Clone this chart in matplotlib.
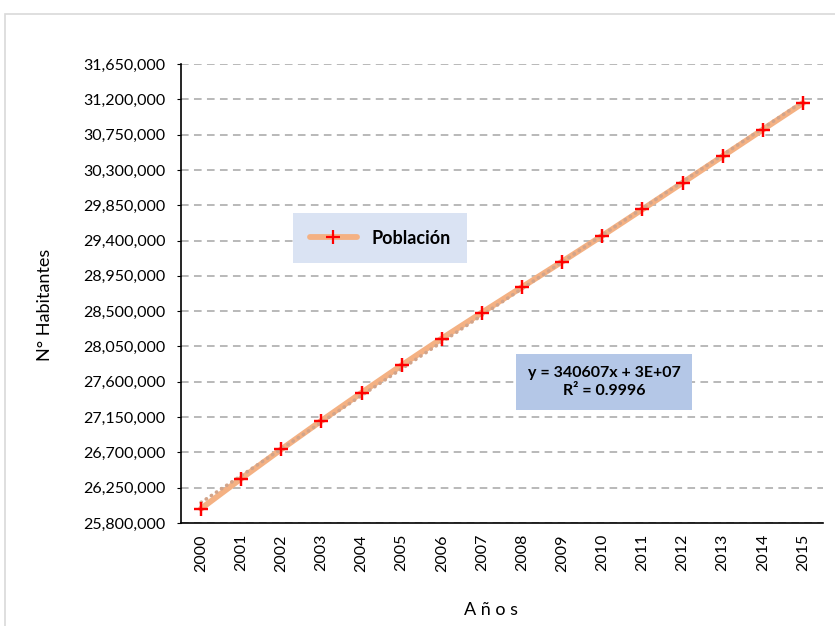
import numpy as np
import matplotlib
matplotlib.use("Agg")
import matplotlib.pyplot as plt
from matplotlib.patches import Rectangle
from matplotlib.ticker import FuncFormatter

plt.rcParams['font.family'] = ['Lato', 'DejaVu Sans']

years = ['2000', '2001', '2002', '2003', '2004', '2005', '2006', '2007',
         '2008', '2009', '2010', '2011', '2012', '2013', '2014', '2015']
poblacion = [25983588, 26366533, 26739379, 27103457, 27460073, 27810540,
             28151443, 28481901, 28807034, 29132013, 29461933, 29797694,
             30135875, 30475144, 30814175, 31151643]
y_ticks = [25800000 + 450000 * i for i in range(14)]
equation = "y = 340607x + 3E+07\nR² = 0.9996"

W, H = 835, 626
fig = plt.figure(figsize=(W / 100, H / 100), dpi=100)

# chart border (Excel-like frame, cut at right/bottom)
fig.patches.append(Rectangle((5 / W, -0.1), 1.2, 1 - 14 / H + 0.1,
                             transform=fig.transFigure, fill=False,
                             edgecolor='#D9D9D9', linewidth=1.2))

ax = fig.add_axes([181 / W, 1 - 523 / H, (823 - 181) / W, (523 - 64) / H])
x = np.arange(len(years))

# linear trendline (Excel style, x = 1..n)
xs = x + 1
coef = np.polyfit(xs, poblacion, 1)
trend = np.polyval(coef, xs)

ax.plot(x, poblacion, color='#F4B183', linewidth=4.2, solid_capstyle='round',
        marker='+', markersize=10, markeredgewidth=1.6, markeredgecolor='#FF0000',
        label='Población', zorder=3)
ax.plot(x, trend, color='#D2A48A', linewidth=2.6, linestyle=(0, (0.1, 1.6)),
        dash_capstyle='round', zorder=4)
# redraw markers above the trendline
ax.plot(x, poblacion, linestyle='none', marker='+', markersize=10,
        markeredgewidth=1.6, markeredgecolor='#FF0000', zorder=5)

ax.set_xlim(-0.5, len(years) - 0.5)
ax.set_ylim(y_ticks[0], y_ticks[-1])
ax.set_yticks(y_ticks)
ax.yaxis.set_major_formatter(FuncFormatter(lambda v, p: f"{int(v):,}"))
ax.set_xticks(x)
ax.set_xticklabels(years, rotation=90)
ax.tick_params(axis='y', labelsize=11.5, length=3, color='#000000', pad=8)
ax.tick_params(axis='x', labelsize=11.5, length=0, pad=8)

ax.grid(True, axis='y', color='#A6A6A6', linestyle=(0, (5, 3.5)), linewidth=1.1)
ax.set_axisbelow(True)
for s in ['top', 'right']:
    ax.spines[s].set_visible(False)
ax.spines['left'].set_linewidth(1.2)
ax.spines['bottom'].set_linewidth(1.2)

fig.text(45 / W, 1 - 305 / H, "N° Habitantes", rotation=90, ha='center',
         va='center', fontsize=13)
fig.text(491 / W, 1 - 610 / H, "A ñ o s", ha='center', va='center', fontsize=13)

# legend box
leg = ax.legend(loc='center', bbox_to_anchor=((380 - 181) / (823 - 181), (523 - 238) / (523 - 64)),
                frameon=True, fancybox=False, handlelength=2.6,
                borderpad=0.9, prop={'weight': 'bold', 'size': 13})
leg.get_frame().set_facecolor('#DAE3F3')
leg.get_frame().set_edgecolor('none')
leg.get_frame().set_alpha(1)

# equation box
fig.text(604 / W, 1 - 382 / H, equation, ha='center', va='center', fontsize=11.5,
         fontweight='bold', linespacing=1.35,
         bbox=dict(boxstyle='square,pad=0.75', facecolor='#B4C7E7', edgecolor='none'))

fig.savefig('out.png', dpi=100)
